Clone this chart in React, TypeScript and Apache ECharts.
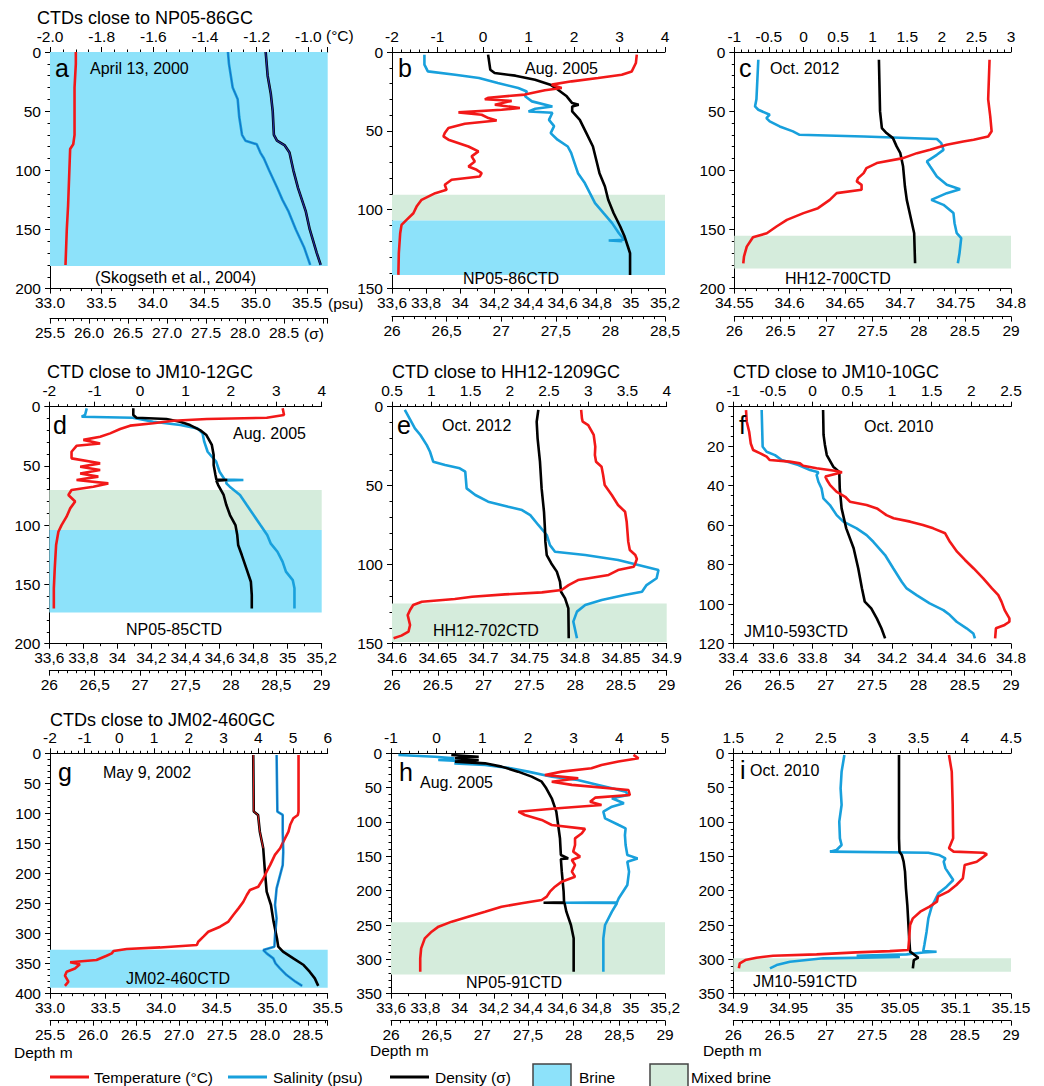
import React, { useEffect, useRef } from "react";
import * as echarts from "echarts";

type Profile = [number, number][]; // [depth (m), value]

// ---------------- Panel a (April 13, 2000) ----------------
const aTemp: Profile = [[0,-1.90],[10,-1.90],[30,-1.905],[50,-1.905],[70,-1.905],[78,-1.91],[82,-1.922],[100,-1.925],[130,-1.93],[150,-1.935],[180,-1.94]];
const aSal: Profile = [[0,34.73],[10,34.74],[30,34.776],[40,34.825],[55,34.84],[70,34.867],[75,34.90],[78,35.01],[85,35.045],[90,35.08],[100,35.13],[115,35.21],[125,35.26],[135,35.32],[150,35.39],[165,35.47],[180,35.53]];
const aDens: Profile = [[0,28.265],[20,28.29],[35,28.33],[50,28.355],[70,28.37],[75,28.41],[79,28.51],[85,28.57],[100,28.62],[115,28.68],[135,28.78],[150,28.83],[170,28.92],[180,28.97]];
const aBrine: [number, number] = [0, 181];

// ---------------- Panel b (Aug. 2005, NP05-86CTD) ----------------
const bTemp: Profile = [[1.7,3.38],[7,3.36],[12.3,3.27],[14.4,3.05],[16.5,2.53],[18.6,1.95],[20.7,1.51],[22.8,1.73],[24.3,1.36],[27,0.92],[29,0.12],[30,0.04],[31,0.63],[33.4,0.26],[35.5,0.81],[36.6,0.41],[38.3,-0.54],[39.8,-0.03],[41.9,0.12],[43.4,0.30],[45.5,-0.40],[48.2,-0.76],[51.4,-0.84],[53.5,-0.87],[55.6,-0.76],[59.9,-0.32],[63,-0.10],[66.2,-0.25],[69.4,-0.18],[72.6,-0.32],[74.7,-0.14],[76.8,-0.03],[78.9,-0.07],[81,-0.69],[84.2,-0.84],[87.4,-0.80],[89.5,-1.05],[93.7,-1.35],[98,-1.46],[102.2,-1.53],[106.4,-1.68],[109.6,-1.79],[114.9,-1.82],[127.6,-1.85],[141.3,-1.86]];
const bSal: Profile = [[1.7,33.79],[8,33.79],[12.3,33.81],[14.4,33.97],[16.5,34.11],[19.7,34.22],[22.8,34.34],[25,34.39],[28.1,34.38],[31.3,34.42],[34.5,34.54],[36,34.44],[37.7,34.40],[38.5,34.54],[43,34.52],[47,34.55],[51.4,34.53],[55.6,34.57],[59.9,34.63],[64,34.65],[70.4,34.67],[76.8,34.69],[83.1,34.73],[89.5,34.76],[95.8,34.79],[102.2,34.84],[108.5,34.89],[114.9,34.93],[119,34.96],[119.5,34.87],[120,34.95]];
const bDens: Profile = [[1.7,26.88],[11.2,26.90],[13.3,26.94],[15,27.13],[17.6,27.31],[20.7,27.45],[23.9,27.52],[28.1,27.60],[32.4,27.65],[33.4,27.71],[34.5,27.65],[37.7,27.65],[43,27.72],[51.4,27.78],[59.9,27.84],[68.3,27.87],[76.8,27.90],[85.3,27.95],[93.7,27.98],[102.2,28.03],[110.6,28.09],[117,28.13],[123.3,28.16],[127.6,28.18],[141.3,28.18]];
const bMixed: [number, number] = [90.5, 106.8];
const bBrine: [number, number] = [106.8, 141.3];

// ---------------- Panel c (Oct. 2012, HH12-700CTD) ----------------
const cTemp: Profile = [[6.5,2.69],[40,2.67],[54.4,2.70],[67,2.72],[71.4,2.67],[74.2,2.46],[75.6,2.31],[78.4,2.07],[82.7,1.83],[85.5,1.64],[89.7,1.44],[93.9,1.06],[98.2,0.91],[102.4,0.87],[106.6,0.79],[109.4,0.77],[112.3,0.84],[116.5,0.84],[119.3,0.48],[125,0.38],[132,0.21],[136.2,0.0],[141.9,-0.24],[147.5,-0.39],[153.2,-0.53],[156.6,-0.73],[164.5,-0.82],[172.9,-0.86],[178.6,-0.87]];
const cSal: Profile = [[6.5,34.5717],[40,34.570],[46,34.5687],[48.8,34.5717],[53,34.582],[55.9,34.579],[58.7,34.582],[62.9,34.591],[67.1,34.603],[70,34.609],[71.4,34.667],[73.6,34.733],[77,34.737],[82.7,34.739],[86.9,34.733],[92.5,34.724],[96.8,34.727],[105.2,34.733],[112.3,34.742],[116,34.754],[119.3,34.742],[125,34.728],[129.2,34.739],[136.2,34.748],[144.7,34.749],[153.2,34.751],[157.4,34.755],[170,34.7535],[178.6,34.752]];
const cDens: Profile = [[6.5,27.568],[50,27.58],[64.3,27.60],[68.5,27.65],[72.8,27.72],[79.8,27.76],[85.5,27.80],[96.8,27.83],[113.7,27.85],[125,27.87],[139,27.91],[153.2,27.95],[178.6,27.96]];
const cMixed: [number, number] = [155.4, 183];

// ---------------- Panel d (Aug. 2005, NP05-85CTD) ----------------
const dTemp: Profile = [[1.4,3.14],[7,3.17],[9.3,2.79],[10.4,1.47],[11.8,0.73],[14,0.29],[16,-0.22],[18.8,-0.44],[22.5,-0.66],[25.3,-0.88],[28,-1.25],[31,-0.88],[33,-1.40],[38,-1.51],[43.6,-1.51],[47.8,-0.88],[50.6,-1.32],[53.4,-0.88],[56.3,-1.32],[59,-0.92],[61.9,-1.40],[64.7,-0.70],[67.5,-1.03],[70.3,-1.51],[74.5,-1.58],[80,-1.43],[85.8,-1.54],[92.8,-1.62],[99.9,-1.73],[105.5,-1.80],[116.7,-1.85],[136.4,-1.88],[153.3,-1.90],[170.2,-1.90]];
const dSal: Profile = [[1.4,33.82],[7,33.81],[8.5,33.79],[9.3,34.09],[12.7,34.21],[15.5,34.37],[18.3,34.47],[22.5,34.50],[29.5,34.51],[38,34.53],[46.4,34.58],[54.9,34.60],[61.5,34.63],[61.9,34.74],[62.5,34.64],[64.7,34.64],[67.5,34.66],[74.5,34.72],[83,34.76],[91.4,34.80],[99.9,34.84],[108.3,34.88],[115.3,34.90],[122.4,34.94],[130.8,34.97],[139.2,34.99],[146.3,35.03],[153.3,35.04],[170.2,35.04]];
const dDens: Profile = [[1.4,26.925],[7,26.925],[9.3,26.96],[10.4,27.29],[12.7,27.44],[15.5,27.55],[19.7,27.66],[23.9,27.73],[32.3,27.79],[40.8,27.81],[49.2,27.81],[57.7,27.83],[61.5,27.84],[61.9,27.96],[62.5,27.84],[66.1,27.86],[74.5,27.92],[83,27.95],[91.4,27.99],[99.9,28.05],[108.3,28.07],[116.7,28.08],[125.2,28.12],[136.4,28.17],[147.7,28.22],[159,28.23],[170.2,28.23]];
const dMixed: [number, number] = [70.3, 104];
const dBrine: [number, number] = [104, 173.6];

// ---------------- Panel e (Oct. 2012, HH12-702CTD) ----------------
const eTemp: Profile = [[2,2.91],[7.4,2.92],[9.5,2.93],[11.6,3.00],[17.9,3.07],[25.3,3.09],[30.6,3.085],[34.8,3.10],[38,3.17],[43.2,3.19],[49.6,3.21],[55.9,3.30],[62.2,3.38],[66.5,3.47],[72.8,3.49],[79.1,3.50],[85.4,3.51],[90.7,3.53],[93.9,3.60],[96.4,3.62],[99.2,3.60],[101.3,3.58],[103.4,3.38],[106.5,3.26],[109.7,2.87],[112.9,2.75],[116,2.66],[117.5,2.41],[118.8,1.94],[120.3,1.52],[121.7,1.30],[123.4,0.88],[125.5,0.77],[128.7,0.73],[131.9,0.70],[138.2,0.73],[142.4,0.71],[144.9,0.62],[146.6,0.52]];
const eSal: Profile = [[2,34.614],[8.4,34.620],[13.7,34.625],[17.9,34.631],[24.3,34.638],[28.5,34.6415],[34.8,34.645],[36.9,34.658],[39,34.674],[41.1,34.680],[51.7,34.6815],[55.9,34.691],[60.1,34.705],[63.3,34.727],[65.4,34.742],[68.6,34.751],[75,34.760],[81.2,34.769],[87.6,34.7725],[91.8,34.778],[93.9,34.811],[97,34.847],[100.2,34.869],[103.4,34.891],[108.6,34.889],[112.9,34.878],[117.1,34.873],[119.2,34.854],[122.4,34.829],[125.5,34.811],[129.7,34.802],[136,34.798],[146.6,34.802]];
const eDens: Profile = [[2,27.598],[9.5,27.58],[20,27.59],[34.8,27.616],[51.7,27.634],[66.5,27.66],[77,27.67],[85.4,27.675],[93.9,27.69],[99.2,27.74],[104.4,27.80],[110.8,27.835],[117.1,27.846],[121.3,27.89],[127.6,27.926],[146.6,27.93]];
const eMixed: [number, number] = [124.5, 149];

// ---------------- Panel f (Oct. 2010, JM10-593CTD) ----------------
const fTemp: Profile = [[1.7,-0.84],[7.6,-0.83],[12.7,-0.80],[18.6,-0.78],[21.9,-0.75],[23.6,-0.66],[25.3,-0.58],[27,-0.54],[27.8,-0.29],[28.7,-0.16],[29.9,-0.12],[31.2,0.05],[32.6,0.30],[33.2,0.37],[34.3,0.26],[35.4,0.16],[37.1,0.18],[39.7,0.22],[43,0.30],[45.6,0.41],[48.1,0.47],[49.8,0.68],[51.5,0.81],[53.2,0.87],[54.9,0.93],[56.5,1.02],[58.2,1.23],[59.9,1.39],[61.6,1.52],[64.1,1.67],[68.4,1.73],[73.4,1.82],[77.6,1.92],[81.9,2.03],[86.9,2.15],[92,2.26],[95.4,2.34],[98.7,2.38],[103,2.42],[107.2,2.48],[108.9,2.48],[110.5,2.42],[112.2,2.31],[117.3,2.30]];
const fSal: Profile = [[1.7,33.543],[20.3,33.548],[22.8,33.568],[24.5,33.61],[27,33.644],[29.5,33.728],[32.1,33.787],[33.2,33.829],[34.6,33.82],[38,33.829],[41.4,33.845],[46.4,33.854],[49.8,33.887],[54.9,33.921],[58.2,33.955],[61.6,34.022],[65,34.072],[68.4,34.106],[75.1,34.165],[81.9,34.207],[88.6,34.249],[92,34.274],[95.4,34.324],[99.6,34.39],[103,34.459],[105.5,34.492],[108.9,34.526],[112.2,34.576],[114.8,34.61],[117.3,34.618]];
const fDens: Profile = [[1.7,26.97],[14.3,26.975],[19.4,26.99],[24.5,27.01],[28.7,27.06],[30.4,27.08],[33,27.145],[41.4,27.15],[51.5,27.17],[61.6,27.22],[71.7,27.30],[81.9,27.35],[92,27.39],[98.7,27.42],[102.1,27.49],[107.2,27.55],[112.2,27.60],[117.3,27.64]];

// ---------------- Panel g (May 9, 2002, JM02-460CTD) ----------------
const gTemp: Profile = [[2.8,5.16],[97,5.16],[102.6,5.14],[108,5.01],[119,4.92],[130.4,4.87],[141.5,4.77],[158,4.63],[169,4.48],[186,4.34],[197,4.24],[208,4.15],[222,4.0],[227.5,3.76],[235.8,3.67],[247,3.57],[258,3.43],[269,3.28],[280,3.14],[288.5,2.90],[297,2.56],[305,2.42],[313.5,2.27],[319,2.23],[323,1.17],[325.6,0.21],[329,-0.17],[332.9,-0.22],[336.8,-0.37],[344,-0.66],[347.8,-1.42],[351,-1.14],[358,-1.28],[363.4,-1.52],[370,-1.57],[380,-1.47],[387,-1.57]];
const gSal: Profile = [[2.8,35.04],[97,35.047],[102.6,35.095],[130,35.095],[163.7,35.10],[186,35.095],[224.7,35.04],[252.4,35.026],[274.6,35.04],[302.4,35.026],[321.8,35.02],[327.3,34.92],[332.9,34.95],[341.2,35.01],[349.5,35.03],[357.8,35.07],[369,35.13],[380,35.21],[387,35.27]];
const gDens: Profile = [[2.8,27.864],[97,27.87],[102.6,27.92],[130,27.94],[158,27.98],[197,28.0],[230,28.02],[252.4,28.07],[280,28.10],[308,28.14],[321.8,28.155],[330,28.21],[341.2,28.33],[352.3,28.45],[363.4,28.52],[374.5,28.58],[387,28.62]];
const gBrine: [number, number] = [327, 390];

// ---------------- Panel h (Aug. 2005, NP05-91CTD) ----------------
const hTemp: Profile = [[2.4,4.31],[7.3,4.42],[12,3.98],[17,3.61],[21.8,3.39],[26.7,2.74],[31.6,2.37],[36.4,3.10],[41.3,2.52],[46,2.96],[53.4,4.20],[60.7,4.23],[64.6,3.47],[70.4,3.36],[75.2,3.61],[80,2.66],[85,1.79],[89.8,1.93],[97,2.30],[104.4,2.52],[110,3.25],[116.5,3.18],[123.8,3.03],[133.5,3.03],[143.2,2.99],[150.5,3.14],[155.3,2.96],[162.6,3.03],[172.3,2.96],[179.6,3.03],[186.9,2.74],[194.2,2.59],[201.5,2.48],[208.7,2.41],[213.6,2.30],[218.4,1.86],[223.3,1.42],[230.6,1.06],[237.9,0.69],[245.1,0.33],[252.4,0.04],[259.7,-0.11],[269.4,-0.26],[284,-0.34],[298.5,-0.36],[318,-0.36]];
const hSal: Profile = [[2.4,33.643],[5,33.857],[7.3,33.97],[9.7,33.876],[12.1,34.09],[14.6,33.97],[17,34.149],[21.8,34.30],[26.7,34.40],[34,34.54],[38.8,34.69],[46,34.81],[51,34.89],[55.8,34.97],[60.7,34.986],[65.5,34.89],[72.8,34.96],[77.7,34.89],[85,34.84],[94.7,34.85],[104.4,34.93],[109.2,34.97],[119,34.966],[133.5,34.97],[148,34.98],[153,35.04],[157.8,34.98],[172.3,34.99],[191.7,34.98],[211,34.93],[217,34.92],[217.5,34.616],[218,34.92],[230.6,34.89],[250,34.85],[269.4,34.84],[318,34.84]];
const hDens: Profile = [[2.4,26.66],[5,26.96],[7.3,26.70],[9.7,26.96],[12.1,26.70],[14.6,27.03],[19.4,27.21],[26.7,27.39],[34,27.54],[41.3,27.65],[51,27.70],[65.5,27.76],[85,27.81],[104.4,27.83],[123.8,27.85],[148,27.86],[153,27.94],[154,27.86],[172.3,27.87],[201.5,27.89],[217,27.895],[217.5,27.67],[218,27.90],[230.6,27.92],[250,27.97],[269.4,28.0],[318,28.0]];
const hMixed: [number, number] = [246, 322];

// ---------------- Panel i (Oct. 2010, JM10-591CTD) ----------------
const iTemp: Profile = [[2.4,3.83],[26.7,3.86],[75,3.87],[123.8,3.875],[138.3,3.83],[143.2,3.88],[144.7,4.20],[147,4.24],[153,4.18],[157.8,4.13],[162.6,4.0],[172.3,3.99],[182,3.98],[191.7,3.91],[201.5,3.82],[208.7,3.71],[216,3.70],[223.3,3.62],[230.6,3.52],[240.3,3.44],[250,3.41],[269.4,3.40],[286.4,3.39],[288,3.19],[289.8,2.83],[292.7,2.40],[294.7,1.93],[297.6,1.75],[301,1.63],[305.8,1.57],[313.1,1.56]];
const iSal: Profile = [[2.4,35.0],[26.7,34.9975],[51,34.9966],[75.2,34.9975],[99.5,34.9954],[123.8,34.996],[133.5,34.9975],[140.8,34.993],[143.2,34.987],[144.7,35.0756],[148,35.085],[153,35.091],[157.8,35.0894],[167.5,35.091],[177.2,35.095],[184.5,35.098],[194.2,35.092],[203.9,35.0846],[213.6,35.0816],[223.3,35.0786],[240.3,35.0756],[259.7,35.074],[279.1,35.072],[288,35.071],[289,35.083],[290,35.071],[292.7,35.056],[294.7,35.011],[296.6,35.05],[298.5,34.981],[303.4,34.951],[308.3,34.939],[313.1,34.933]];
const iDens: Profile = [[2.4,27.79],[123.8,27.79],[143.2,27.795],[148,27.82],[157.8,27.84],[172.3,27.855],[196.6,27.865],[220.9,27.88],[245.1,27.89],[269.4,27.90],[288.8,27.91],[293.7,27.96],[297.6,28.0],[301,27.95],[313.1,27.94]];
const iMixed: [number, number] = [298.5, 318];

// ---------------- styling ----------------
const FONT = '"Liberation Sans", Arial, Helvetica, sans-serif';
const TICK_FS = 15.5;
const LINE_W = 2.6;
const COL = { temp: "#f21818", sal: "#18a0dc", dens: "#000000", brine: "#8de2fa", mixed: "#d5ecdc" };

type Fmt = "f1" | "plain" | "comma";
interface AxisDef { min: number; max: number; interval: number; fmt: Fmt; split: number; labelMax: number }
interface Shade { range: [number, number]; color: string }
interface Overlay { data: Profile; axis: "temp" | "sal" | "dens"; color: string; width: number }
interface Panel {
  box: [number, number, number, number];
  depth: { max: number; interval: number; split: number };
  temp: AxisDef; sal: AxisDef; dens: AxisDef; densOffset: number;
  t: Profile; s: Profile; d: Profile; shades: Shade[]; overlays?: Overlay[];
}

const ax = (min: number, max: number, interval: number, fmt: Fmt, split = 5, labelMax = Infinity): AxisDef => ({ min, max, interval, fmt, split, labelMax });

const panels: Panel[] = [
  { box: [50, 52, 277.7, 236.6], depth: { max: 200, interval: 50, split: 5 },
    temp: ax(-2.0, -0.925, 0.2, "f1", 4, -1.0), sal: ax(33.0, 35.70, 0.5, "f1", 5, 35.5), dens: ax(25.5, 29.06, 0.5, "f1", 5, 28.5), densOffset: 30,
    t: aTemp, s: aSal, d: aDens, shades: [{ range: aBrine, color: COL.brine }],
    overlays: [{ data: aSal, axis: "sal", color: "#1670c4", width: 1 }, { data: aDens, axis: "dens", color: "#1e2d9c", width: 1.2 }] },
  { box: [392, 52, 273, 236.6], depth: { max: 150, interval: 50, split: 5 },
    temp: ax(-2, 4, 1, "plain"), sal: ax(33.6, 35.2, 0.2, "comma", 2), dens: ax(26, 28.5, 0.5, "comma"), densOffset: 28,
    t: bTemp, s: bSal, d: bDens, shades: [{ range: bMixed, color: COL.mixed }, { range: bBrine, color: COL.brine }] },
  { box: [734.3, 52, 276.7, 236.6], depth: { max: 200, interval: 50, split: 5 },
    temp: ax(-1, 3, 0.5, "plain"), sal: ax(34.55, 34.8, 0.05, "plain"), dens: ax(26, 29, 0.5, "plain"), densOffset: 28,
    t: cTemp, s: cSal, d: cDens, shades: [{ range: cMixed, color: COL.mixed }] },
  { box: [49.3, 406.7, 272.4, 237], depth: { max: 200, interval: 50, split: 5 },
    temp: ax(-2, 4, 1, "plain"), sal: ax(33.6, 35.2, 0.2, "comma", 2), dens: ax(26, 29, 0.5, "comma"), densOffset: 27,
    t: dTemp, s: dSal, d: dDens, shades: [{ range: dMixed, color: COL.mixed }, { range: dBrine, color: COL.brine }] },
  { box: [392, 406.7, 274.7, 237], depth: { max: 150, interval: 50, split: 5 },
    temp: ax(0.5, 4, 0.5, "plain"), sal: ax(34.6, 34.9, 0.05, "plain"), dens: ax(26, 29, 0.5, "plain"), densOffset: 27,
    t: eTemp, s: eSal, d: eDens, shades: [{ range: eMixed, color: COL.mixed }] },
  { box: [733.3, 406.7, 277.7, 237], depth: { max: 120, interval: 20, split: 4 },
    temp: ax(-1, 2.5, 0.5, "plain"), sal: ax(33.4, 34.8, 0.2, "plain", 2), dens: ax(26, 29, 0.5, "plain"), densOffset: 27,
    t: fTemp, s: fSal, d: fDens, shades: [] },
  { box: [50, 753.3, 277.7, 240.4], depth: { max: 400, interval: 50, split: 5 },
    temp: ax(-2, 6, 1, "plain"), sal: ax(33.0, 35.5, 0.5, "f1"), dens: ax(25.5, 28.73, 0.5, "f1", 5, 28.5), densOffset: 27,
    t: gTemp, s: gSal, d: gDens, shades: [{ range: gBrine, color: COL.brine }],
    overlays: [{ data: gSal, axis: "sal", color: "#1560b8", width: 1 }, { data: gDens.slice(0, 5), axis: "dens", color: "#e02020", width: 1 }] },
  { box: [391, 753.3, 274, 240.4], depth: { max: 350, interval: 50, split: 5 },
    temp: ax(-1, 5, 1, "plain"), sal: ax(33.6, 35.2, 0.2, "comma", 2), dens: ax(26, 29, 0.5, "comma"), densOffset: 27,
    t: hTemp, s: hSal, d: hDens, shades: [{ range: hMixed, color: COL.mixed }] },
  { box: [733.3, 753.3, 277.7, 240.4], depth: { max: 350, interval: 50, split: 5 },
    temp: ax(1.5, 4.5, 0.5, "plain"), sal: ax(34.9, 35.15, 0.05, "plain"), dens: ax(26, 29, 0.5, "plain"), densOffset: 27,
    t: iTemp, s: iSal, d: iDens, shades: [{ range: iMixed, color: COL.mixed }] },
];

// Annotation texts: [text, x, y, fontSize]
const titles: [string, number, number, number][] = [
  ["CTDs close to NP05-86GC", 37, 18, 18],
  ["CTD close to JM10-12GC", 47, 372, 18],
  ["CTD close to HH12-1209GC", 392, 372, 18],
  ["CTD close to JM10-10GC", 733, 372, 18],
  ["CTDs close to JM02-460GC", 50, 720, 18],
];
const letters: [string, number, number, number][] = [
  ["a", 55, 68, 25], ["b", 398, 68, 25], ["c", 739, 68, 25],
  ["d", 53, 425, 25], ["e", 397, 425, 25], ["f", 739, 425, 25],
  ["g", 58, 772, 25], ["h", 399, 772, 25], ["i", 740, 770, 25],
];
const notes: [string, number, number, number][] = [
  ["April 13, 2000", 90, 68, 16], ["Aug. 2005", 525, 68, 16], ["Oct. 2012", 770, 68, 16],
  ["Aug. 2005", 233, 433, 16], ["Oct. 2012", 442, 425, 16], ["Oct. 2010", 864, 426, 16],
  ["May 9, 2002", 103, 772, 16], ["Aug. 2005", 420, 782, 16], ["Oct. 2010", 750, 770, 16],
  ["(Skogseth et al., 2004)", 95, 277, 16], ["NP05-86CTD", 463, 278, 16], ["HH12-700CTD", 785, 278, 16],
  ["NP05-85CTD", 126, 629, 16], ["HH12-702CTD", 433, 630, 16], ["JM10-593CTD", 744, 631, 16],
  ["JM02-460CTD", 126, 978, 16], ["NP05-91CTD", 466, 982, 16], ["JM10-591CTD", 753, 981, 16],
  ["(°C)", 326, 35, TICK_FS], ["(psu)", 328, 303, TICK_FS], ["(σ)", 304, 333, TICK_FS],
  ["Depth m", 14, 1052, 15.5], ["Depth m", 370, 1050, 15.5], ["Depth m", 703, 1050, 15.5],
];
const legendItems: { label: string; kind: "line" | "box"; color: string; x: number; textX: number }[] = [
  { label: "Temperature (°C)", kind: "line", color: COL.temp, x: 50, textX: 94 },
  { label: "Salinity (psu)", kind: "line", color: COL.sal, x: 228, textX: 273 },
  { label: "Density (σ)", kind: "line", color: COL.dens, x: 390, textX: 435 },
  { label: "Brine", kind: "box", color: COL.brine, x: 533, textX: 579 },
  { label: "Mixed brine", kind: "box", color: COL.mixed, x: 650, textX: 691 },
];
const LEGEND_Y = 1077;

function fmt(v: number, f: Fmt): string {
  if (f === "f1") return (Math.abs(v) < 1e-9 ? 0 : v).toFixed(1);
  let s = String(Math.round(v * 10000) / 10000);
  if (s === "-0") s = "0";
  return f === "comma" ? s.replace(".", ",") : s;
}

function textEl(text: string, x: number, y: number, size: number) {
  return {
    type: "text", x, y, silent: true, z: 50,
    style: { text, fontSize: size, fontFamily: FONT, fill: "#000", textAlign: "left", textVerticalAlign: "middle", align: "left", verticalAlign: "middle" },
  };
}

function buildOption() {
  const grid: any[] = [];
  const xAxis: any[] = [];
  const yAxis: any[] = [];
  const series: any[] = [];
  const baseAxis = (split: number) => ({
    axisLine: { show: true, onZero: false, lineStyle: { color: "#000", width: 1 } },
    axisTick: { show: true, length: 5, inside: false, lineStyle: { color: "#000", width: 1 } },
    minorTick: { show: true, splitNumber: split, length: 2.5, lineStyle: { color: "#000", width: 1 } },
    splitLine: { show: false },
    minorSplitLine: { show: false },
  });
  const xAx = (k: number, a: AxisDef, position: string, offset: number, margin: number) => {
    const steps = (a.max - a.min) / a.interval;
    const aligned = Math.abs(steps - Math.round(steps)) < 1e-6;
    return {
      type: "value", gridIndex: k, position, offset, min: a.min, max: a.max, interval: a.interval,
      ...baseAxis(a.split),
      axisLabel: {
        show: true, fontSize: TICK_FS, fontFamily: FONT, color: "#000", margin, showMinLabel: true, showMaxLabel: aligned,
        formatter: (v: number) => (v > a.labelMax + 1e-9 ? "" : fmt(v, a.fmt)),
      },
    };
  };
  panels.forEach((p, k) => {
    grid.push({ left: p.box[0], top: p.box[1], width: p.box[2], height: p.box[3], containLabel: false });
    yAxis.push({
      type: "value", gridIndex: k, inverse: true, min: 0, max: p.depth.max, interval: p.depth.interval,
      ...baseAxis(p.depth.split),
      axisLabel: { show: true, fontSize: TICK_FS, fontFamily: FONT, color: "#000", margin: 9, formatter: (v: number) => fmt(v, "plain") },
    });
    const ti = xAxis.length;
    xAxis.push(xAx(k, p.temp, "top", 0, 8));
    xAxis.push(xAx(k, p.sal, "bottom", 0, 6));
    xAxis.push(xAx(k, p.dens, "bottom", p.densOffset, 6));
    const idx = { temp: ti, sal: ti + 1, dens: ti + 2 };
    const tMin = p.temp.min;
    p.shades.forEach((sh) => {
      series.push({
        type: "custom", xAxisIndex: ti, yAxisIndex: k, z: 1, silent: true,
        data: [[sh.range[0], sh.range[1]]],
        encode: { x: [], y: [0, 1] },
        renderItem: (params: any, api: any) => {
          const cs = params.coordSys;
          const y1 = api.coord([tMin, api.value(0)])[1];
          const y2 = api.coord([tMin, api.value(1)])[1];
          return { type: "rect", shape: { x: cs.x, y: Math.min(y1, y2), width: cs.width, height: Math.abs(y2 - y1) }, style: { fill: sh.color } };
        },
      });
    });
    const line = (data: Profile, axis: "temp" | "sal" | "dens", color: string, width: number, z: number) => ({
      type: "line", xAxisIndex: idx[axis], yAxisIndex: k, z, silent: true,
      data: data.map(([dep, v]) => [v, dep]),
      showSymbol: false, symbol: "none", smooth: false,
      lineStyle: { color, width }, itemStyle: { color },
      emphasis: { disabled: true },
    });
    series.push(line(p.s, "sal", COL.sal, LINE_W, 3));
    series.push(line(p.d, "dens", COL.dens, LINE_W, 4));
    series.push(line(p.t, "temp", COL.temp, LINE_W, 5));
    (p.overlays || []).forEach((o) => series.push(line(o.data, o.axis, o.color, o.width, 6)));
  });

  const graphic: any[] = [];
  [...titles, ...letters, ...notes].forEach(([t, x, y, s]) => graphic.push(textEl(t, x, y, s)));
  legendItems.forEach((it) => {
    if (it.kind === "line") {
      graphic.push({ type: "line", silent: true, z: 50, shape: { x1: it.x, y1: LEGEND_Y, x2: it.x + 39, y2: LEGEND_Y }, style: { stroke: it.color, lineWidth: 3 } });
    } else {
      graphic.push({ type: "rect", silent: true, z: 50, shape: { x: it.x, y: 1064, width: 38, height: 26 }, style: { fill: it.color, stroke: "#444", lineWidth: 1.5 } });
    }
    graphic.push(textEl(it.label, it.textX, LEGEND_Y, 15.5));
  });

  return { animation: false, backgroundColor: "#ffffff", grid, xAxis, yAxis, series, graphic };
}

export default function App() {
  const ref = useRef<HTMLDivElement>(null);
  useEffect(() => {
    if (!ref.current) return;
    const chart = echarts.init(ref.current, undefined, { renderer: "svg" });
    chart.setOption(buildOption() as any);
    return () => chart.dispose();
  }, []);
  return <div ref={ref} style={{ position: "absolute", left: 0, top: 0, width: 1044, height: 1086 }} />;
}
